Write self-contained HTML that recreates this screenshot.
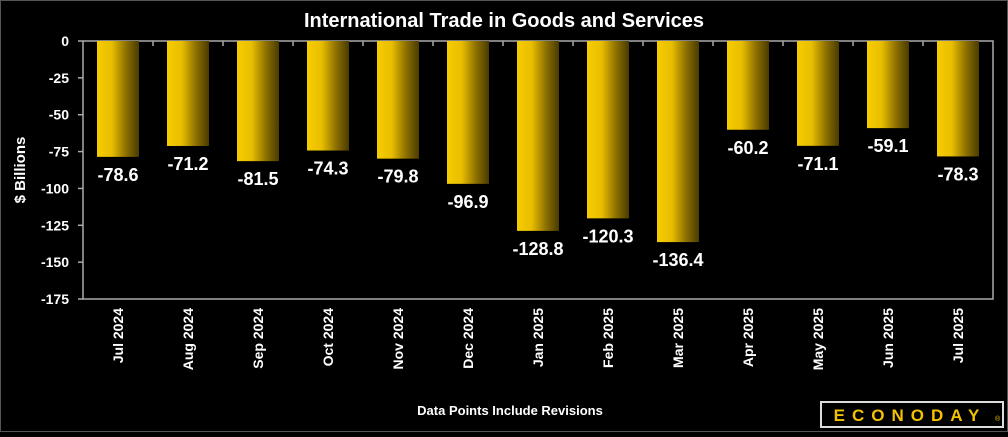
<!DOCTYPE html>
<html><head><meta charset="utf-8"><style>
html,body{margin:0;padding:0;background:#000;}
body{width:1008px;height:432px;overflow:hidden;font-family:"Liberation Sans",sans-serif;}
</style></head><body>
<svg width="1008" height="432" viewBox="0 0 1008 432">
<defs>
<linearGradient id="g" x1="0" x2="1" y1="0" y2="0">
<stop offset="0" stop-color="#f7cc00"/><stop offset="0.35" stop-color="#e8be00"/><stop offset="0.7" stop-color="#8a6e00"/><stop offset="1" stop-color="#4a3b00"/>
</linearGradient>
</defs>
<rect x="0.5" y="0.5" width="1007" height="431" fill="#000" stroke="#555"/>
<text x="504" y="27" fill="#fff" font-size="20" font-weight="bold" text-anchor="middle">International Trade in Goods and Services</text>
<g id="plot"></g>
<text transform="translate(25,170) rotate(-90)" fill="#fff" font-size="15" font-weight="bold" text-anchor="middle">$ Billions</text>
<text x="510" y="415" fill="#fff" font-size="13" font-weight="bold" text-anchor="middle">Data Points Include Revisions</text>
<g>
<rect x="821" y="402" width="182" height="25" fill="#000" stroke="#ddd" stroke-width="2"/>
<text x="910" y="421" fill="#f2c200" font-size="17" font-weight="bold" text-anchor="middle" letter-spacing="7">ECONODAY</text>
<text x="995" y="421" fill="#f2c200" font-size="7">®</text>
</g>
</svg>
<script>
const categories=["Jul 2024","Aug 2024","Sep 2024","Oct 2024","Nov 2024","Dec 2024","Jan 2025","Feb 2025","Mar 2025","Apr 2025","May 2025","Jun 2025","Jul 2025"];
const values=[-78.6,-71.2,-81.5,-74.3,-79.8,-96.9,-128.8,-120.3,-136.4,-60.2,-71.1,-59.1,-78.3];
const yTicks=[0,-25,-50,-75,-100,-125,-150,-175];
const NS="http://www.w3.org/2000/svg";
const L=83,R=993,T=41,B=299,yMin=-175,yMax=0;
const y=v=>T+(yMax-v)/(yMax-yMin)*(B-T);
const bw=(R-L)/categories.length;
const x=i=>L+bw*(i+0.5);
const g=document.getElementById('plot');
function mk(t,a,txt){const e=document.createElementNS(NS,t);for(const k in a)e.setAttribute(k,a[k]);if(txt!==undefined)e.textContent=txt;g.appendChild(e);return e;}
const frame=mk('rect',{x:L,y:T,width:R-L,height:B-T,fill:'none',stroke:'#aaa','stroke-width':1.5});


yTicks.forEach(v=>{
 const t=mk('line',{x1:L-5,x2:L,y1:y(v),y2:y(v),stroke:'#aaa','stroke-width':1.5});
 
 
 const l=mk('text',{x:L-14,y:y(v)+5,fill:'#fff','font-size':14,'font-weight':'bold','text-anchor':'end'},String(v));
 
 
});
categories.forEach((c,i)=>{
 if(i>0){const tk=mk('line',{x1:L+bw*i,x2:L+bw*i,y1:T,y2:T+5,stroke:'#aaa','stroke-width':1.5});
 
 }
 const v=values[i];
 const b=mk('rect',{x:x(i)-21,y:y(0),width:42,height:y(v)-y(0),fill:'url(#g)'});
 
 
 const vl=mk('text',{x:x(i),y:y(v)+24,fill:'#fff','font-size':18,'font-weight':'bold','text-anchor':'middle'},v.toFixed(1));
 
 
 const xl=mk('text',{transform:`translate(${x(i)+5},${B+9}) rotate(-90)`,fill:'#fff','font-size':14,'font-weight':'bold','text-anchor':'end'},c);
 
 
});
</script>
</body></html>
